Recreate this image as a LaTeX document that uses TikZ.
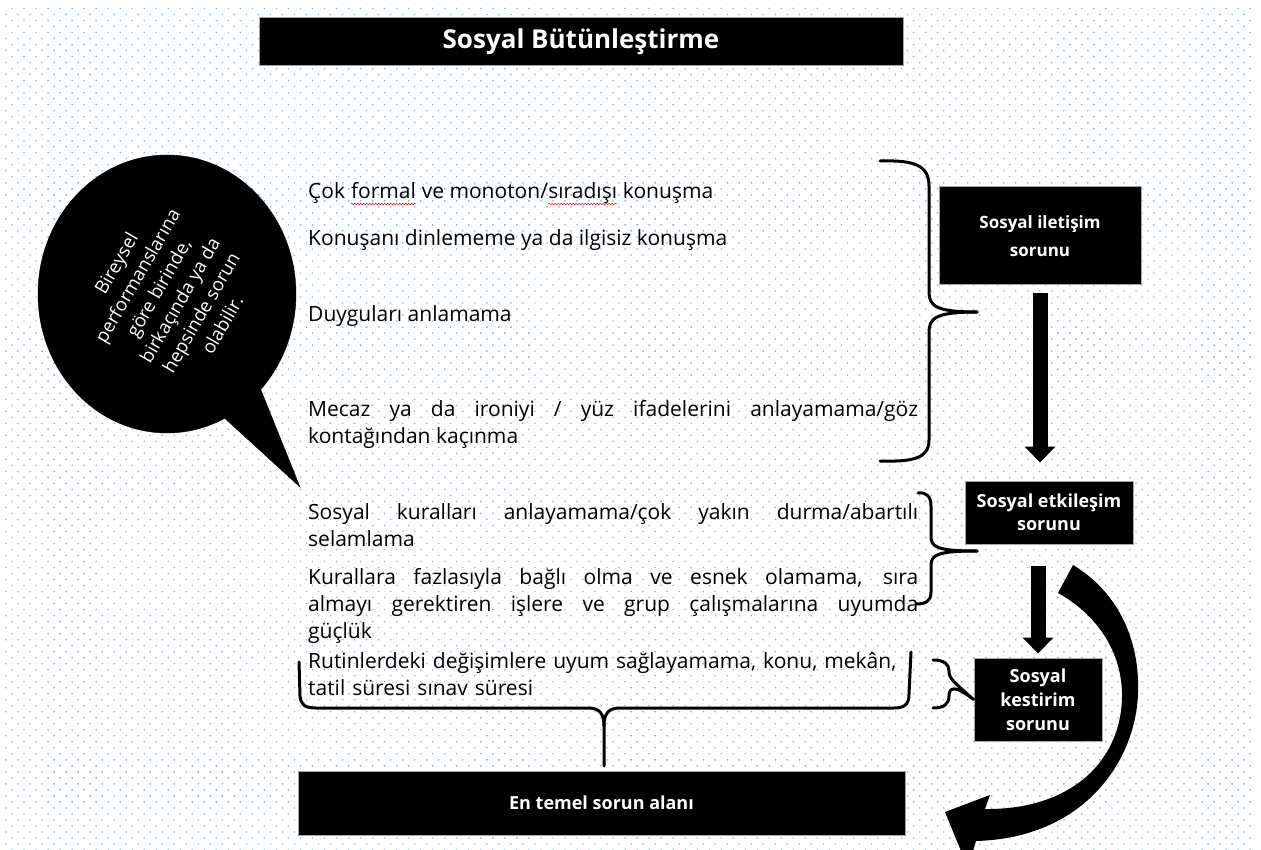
\documentclass[tikz,border=0pt]{standalone}
\usepackage{fontspec}
\setmainfont{Open Sans}
\usetikzlibrary{patterns.meta,shapes.callouts,shapes.geometric,arrows.meta,decorations.pathmorphing}
\definecolor{dotblue}{RGB}{135,178,228}
\begin{document}
\begin{tikzpicture}[x=1pt,y=-1pt,
  blackbox/.style={fill=black, draw=gray!70, line width=1pt, text=white, align=center, inner sep=0pt,
    font=\bfseries\fontsize{18}{24}\selectfont},
  bodytext/.style={anchor=base west, inner sep=0pt, text=black, font=\fontsize{21}{27}\selectfont},
  justtext/.style={bodytext, text width=610pt, align=justify},
  bracestyle/.style={draw=black, line width=3pt, line cap=round, line join=round},
  thickarrow/.style={draw=black, line width=15pt, -{Triangle[width=30pt,length=16pt]}},
  spell/.style={draw=red, line width=0.5pt, decorate, decoration={snake, amplitude=0.8pt, segment length=3pt}}
]
\useasboundingbox (0,0) rectangle (1261,850);
\fill[white] (0,0) rectangle (1261,850);
\fill[pattern={Dots[radius=0.95pt,distance=8.5pt,angle=45]}, pattern color=dotblue] (5,4) rectangle (1252,850);

% title
\node[blackbox, minimum width=644pt, minimum height=48pt, font=\bfseries\fontsize{26}{30}\selectfont] (title) at (581,42) {Sosyal Bütünleştirme};

% speech bubble
\node[ellipse callout, fill=black, draw=black, minimum width=258pt, minimum height=278pt, inner sep=0pt,
  callout absolute pointer={(300,487)}, callout pointer arc=20] (bubble) at (167,294) {};
\node[rotate=60, text=white, align=center, inner sep=0pt, font=\fontsize{18.5}{24.5}\selectfont] (btext) at ([xshift=2pt]bubble.center)
  {Bireysel\\performanslarına\\göre birinde,\\birkaçında ya da\\hepsinde sorun\\olabilir.};

% body texts
\node[bodytext] (t1a) at (308,199) {Çok\hbox{\ }};
\node[bodytext] (w1) at (t1a.base east) {formal};
\node[bodytext] (t1b) at (w1.base east) {\ ve monoton/};
\node[bodytext] (w2) at (t1b.base east) {sıradışı};
\node[bodytext] (t1c) at (w2.base east) {\ konuşma};
\draw[spell] ([yshift=-5pt]w1.base west) -- ([yshift=-5pt]w1.base east);
\draw[spell] ([yshift=-5pt]w2.base west) -- ([yshift=-5pt]w2.base east);
\node[bodytext] (t2) at (308,246) {Konuşanı dinlememe ya da ilgisiz konuşma};
\node[bodytext] (t3) at (308,322) {Duyguları anlamama};
\node[justtext] (t4) at (308,416) {Mecaz ya da ironiyi / yüz ifadelerini anlayamama/göz\linebreak kontağından kaçınma};
\node[justtext] (t5) at (308,519) {Sosyal kuralları anlayamama/çok yakın durma/abartılı\linebreak selamlama};
\node[justtext] (t6) at (308,584) {Kurallara fazlasıyla bağlı olma ve esnek olamama, sıra\linebreak almayı gerektiren işlere ve grup çalışmalarına uyumda\linebreak güçlük};
\node[bodytext, text width=610pt, align=left] (t7) at (308,668) {Rutinlerdeki değişimlere uyum sağlayamama, konu, mekân,\\tatil süresi sınav süresi};

% right boxes
\node[blackbox, minimum width=202pt, minimum height=98pt, font=\bfseries\fontsize{17}{28}\selectfont] (b1) at (1040,236) {Sosyal iletişim\\sorunu};
\node[blackbox, minimum width=168pt, minimum height=63pt, font=\bfseries\fontsize{18}{23}\selectfont] (b2) at (1049,512.5) {Sosyal etkileşim\\sorunu};
\node[blackbox, minimum width=128pt, minimum height=83pt, font=\bfseries\fontsize{18}{24}\selectfont] (b3) at (1038,699.5) {Sosyal\\kestirim\\sorunu};
\node[blackbox, minimum width=607pt, minimum height=64pt] (b4) at (601.5,803) {En temel sorun alanı};

% straight arrows
\draw[thickarrow, shorten <=8pt, shorten >=18pt] (b1.south) -- (b1.south |- b2.north);
\draw[thickarrow, shorten <=21pt, shorten >=4pt] (b2.south -| b3.north) -- (b3.north);

% curved arrow
\fill[black] (1073,565) .. controls (1118,592) and (1140,640) .. (1138,693)
  .. controls (1136,760) and (1085,838) .. (976,841) -- (968,868) -- (945,812) -- (990,795) -- (985,809)
  .. controls (1072,810) and (1123,760) .. (1122,693)
  .. controls (1121,650) and (1096,614) .. (1058,593) -- cycle;

% braces
\coordinate (tip1) at (977,312);
\draw[bracestyle] (880,161) .. controls (914,160) and (929,165) .. (929,186) -- (929,292)
  .. controls (929,306) and (936,312) .. (tip1);
\draw[bracestyle] (tip1) .. controls (936,312) and (929,318) .. (929,332) -- (929,440)
  .. controls (929,458) and (914,462) .. (880,461);

\coordinate (tip2) at (977,551);
\draw[bracestyle] (918,493) .. controls (926,492) and (931,496) .. (931,506) -- (931,536)
  .. controls (931,547) and (936,551) .. (tip2);
\draw[bracestyle] (tip2) .. controls (936,551) and (931,555) .. (931,566) -- (931,592)
  .. controls (931,601) and (926,604) .. (916,604);

\draw[bracestyle] (933,660) .. controls (944,660) and (949,664) .. (949,671)
  .. controls (949,679) and (954,682) .. (b3.west)
  .. controls (954,684) and (949,688) .. (949,696)
  .. controls (949,704) and (944,708) .. (933,708);

\coordinate (tip4) at (604,766);
\draw[bracestyle] (299,662) -- (300,696) .. controls (301,705) and (305,708) .. (316,708) -- (588,708)
  .. controls (599,708) and (604,713) .. (604,726) -- (tip4);
\draw[bracestyle] (604,726) .. controls (604,713) and (609,708) .. (620,708) -- (894,708)
  .. controls (905,708) and (909,704) .. (909,694) -- (911,652);
\end{tikzpicture}
\end{document}
